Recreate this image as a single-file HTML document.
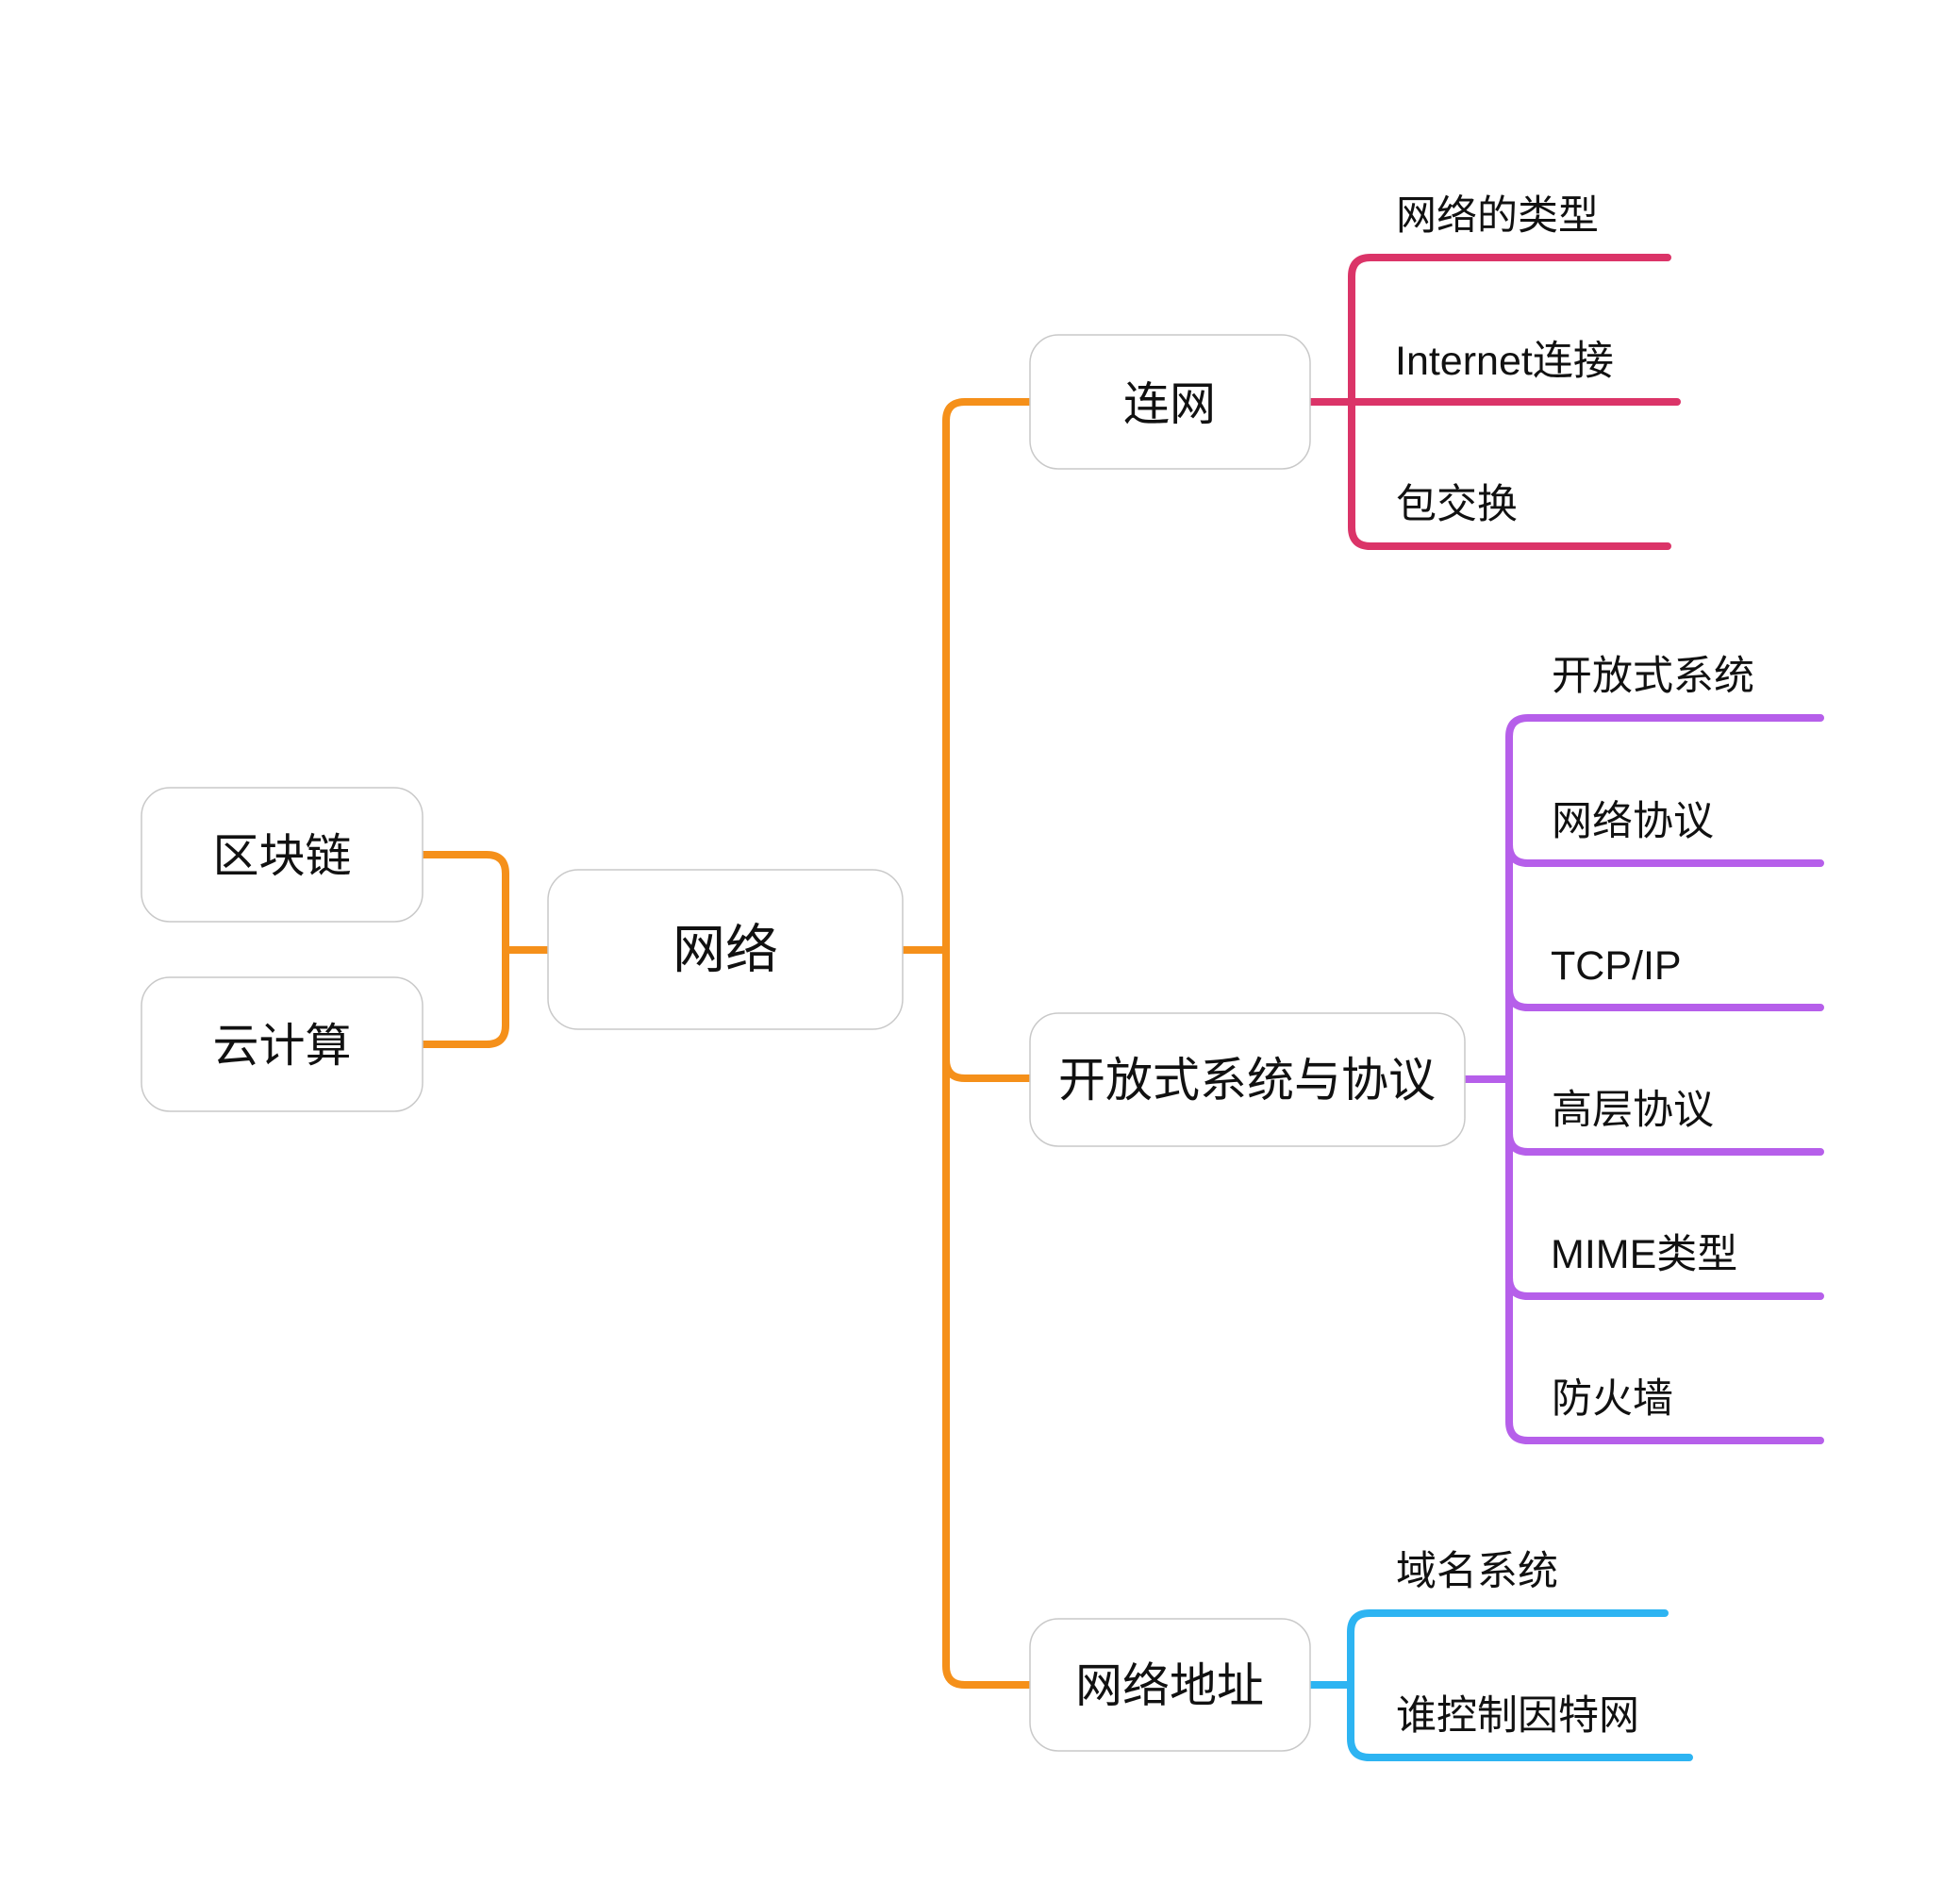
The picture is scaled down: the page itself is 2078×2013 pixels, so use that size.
<!DOCTYPE html>
<html><head><meta charset="utf-8"><style>
html,body{margin:0;padding:0;background:#fff;}
svg{display:block}
text{font-family:"Liberation Sans","Noto Sans CJK SC",sans-serif;fill:#111;}
</style></head><body>
<svg width="2078" height="2013" viewBox="0 0 2078 2013" xmlns="http://www.w3.org/2000/svg">
<g fill="none" stroke-linecap="round" stroke-linejoin="round" stroke-width="8">
<!-- left orange bracket -->
<path d="M448 906 L516 906 Q536 906 536 926 L536 1087 Q536 1107 516 1107 L448 1107" stroke="#F5901A"/>
<path d="M536 1007 L581 1007" stroke="#F5901A" stroke-linecap="butt"/>
<!-- trunk -->
<path d="M957 1007 L1003 1007" stroke="#F5901A" stroke-linecap="butt"/>
<path d="M1092 426 L1023 426 Q1003 426 1003 446 L1003 1766 Q1003 1786 1023 1786 L1092 1786" stroke="#F5901A" stroke-linecap="butt"/>
<path d="M1003 1123 Q1003 1143 1023 1143 L1092 1143" stroke="#F5901A" stroke-linecap="butt"/>
<!-- pink -->
<path d="M1389 426 L1778 426" stroke="#DB3468"/>
<path d="M1768 273 L1453 273 Q1433 273 1433 293 L1433 559 Q1433 579 1453 579 L1768 579" stroke="#DB3468"/>
<!-- purple -->
<path d="M1553 1144 L1600 1144" stroke="#B65FEA" stroke-linecap="butt"/>
<path d="M1930 761 L1620 761 Q1600 761 1600 781 L1600 1507 Q1600 1527 1620 1527 L1930 1527" stroke="#B65FEA"/>
<path d="M1600 895 Q1600 915 1620 915 L1930 915" stroke="#B65FEA"/>
<path d="M1600 1048 Q1600 1068 1620 1068 L1930 1068" stroke="#B65FEA"/>
<path d="M1600 1201 Q1600 1221 1620 1221 L1930 1221" stroke="#B65FEA"/>
<path d="M1600 1354 Q1600 1374 1620 1374 L1930 1374" stroke="#B65FEA"/>
<!-- blue -->
<path d="M1389 1786 L1432 1786" stroke="#2DB4F2" stroke-linecap="butt"/>
<path d="M1765 1710 L1452 1710 Q1432 1710 1432 1730 L1432 1843 Q1432 1863 1452 1863 L1791 1863" stroke="#2DB4F2"/>
</g>
<g fill="#fff" stroke="#c9c9c9" stroke-width="1.5">
<rect x="150" y="835" width="298" height="142" rx="30"/>
<rect x="150" y="1036" width="298" height="142" rx="30"/>
<rect x="581" y="922" width="376" height="169" rx="32"/>
<rect x="1092" y="355" width="297" height="142" rx="30"/>
<rect x="1092" y="1074" width="461" height="141" rx="30"/>
<rect x="1092" y="1716" width="297" height="140" rx="30"/>
</g>
<g text-anchor="middle" font-size="49">
<text x="299" y="924">区块链</text>
<text x="299" y="1125">云计算</text>
<text x="769" y="1026" font-size="56">网络</text>
<text x="1240" y="445">连网</text>
<text x="1322" y="1162" font-size="50">开放式系统与协议</text>
<text x="1240" y="1804" font-size="50">网络地址</text>
</g>
<g font-size="43">
<text x="1480" y="243">网络的类型</text>
<text x="1479" y="397">Internet连接</text>
<text x="1480" y="549">包交换</text>
<text x="1645" y="731">开放式系统</text>
<text x="1645" y="885">网络协议</text>
<text x="1644" y="1038">TCP/IP</text>
<text x="1645" y="1191">高层协议</text>
<text x="1644" y="1344">MIME类型</text>
<text x="1645" y="1497">防火墙</text>
<text x="1480" y="1680">域名系统</text>
<text x="1480" y="1833">谁控制因特网</text>
</g>
</svg>
</body></html>
